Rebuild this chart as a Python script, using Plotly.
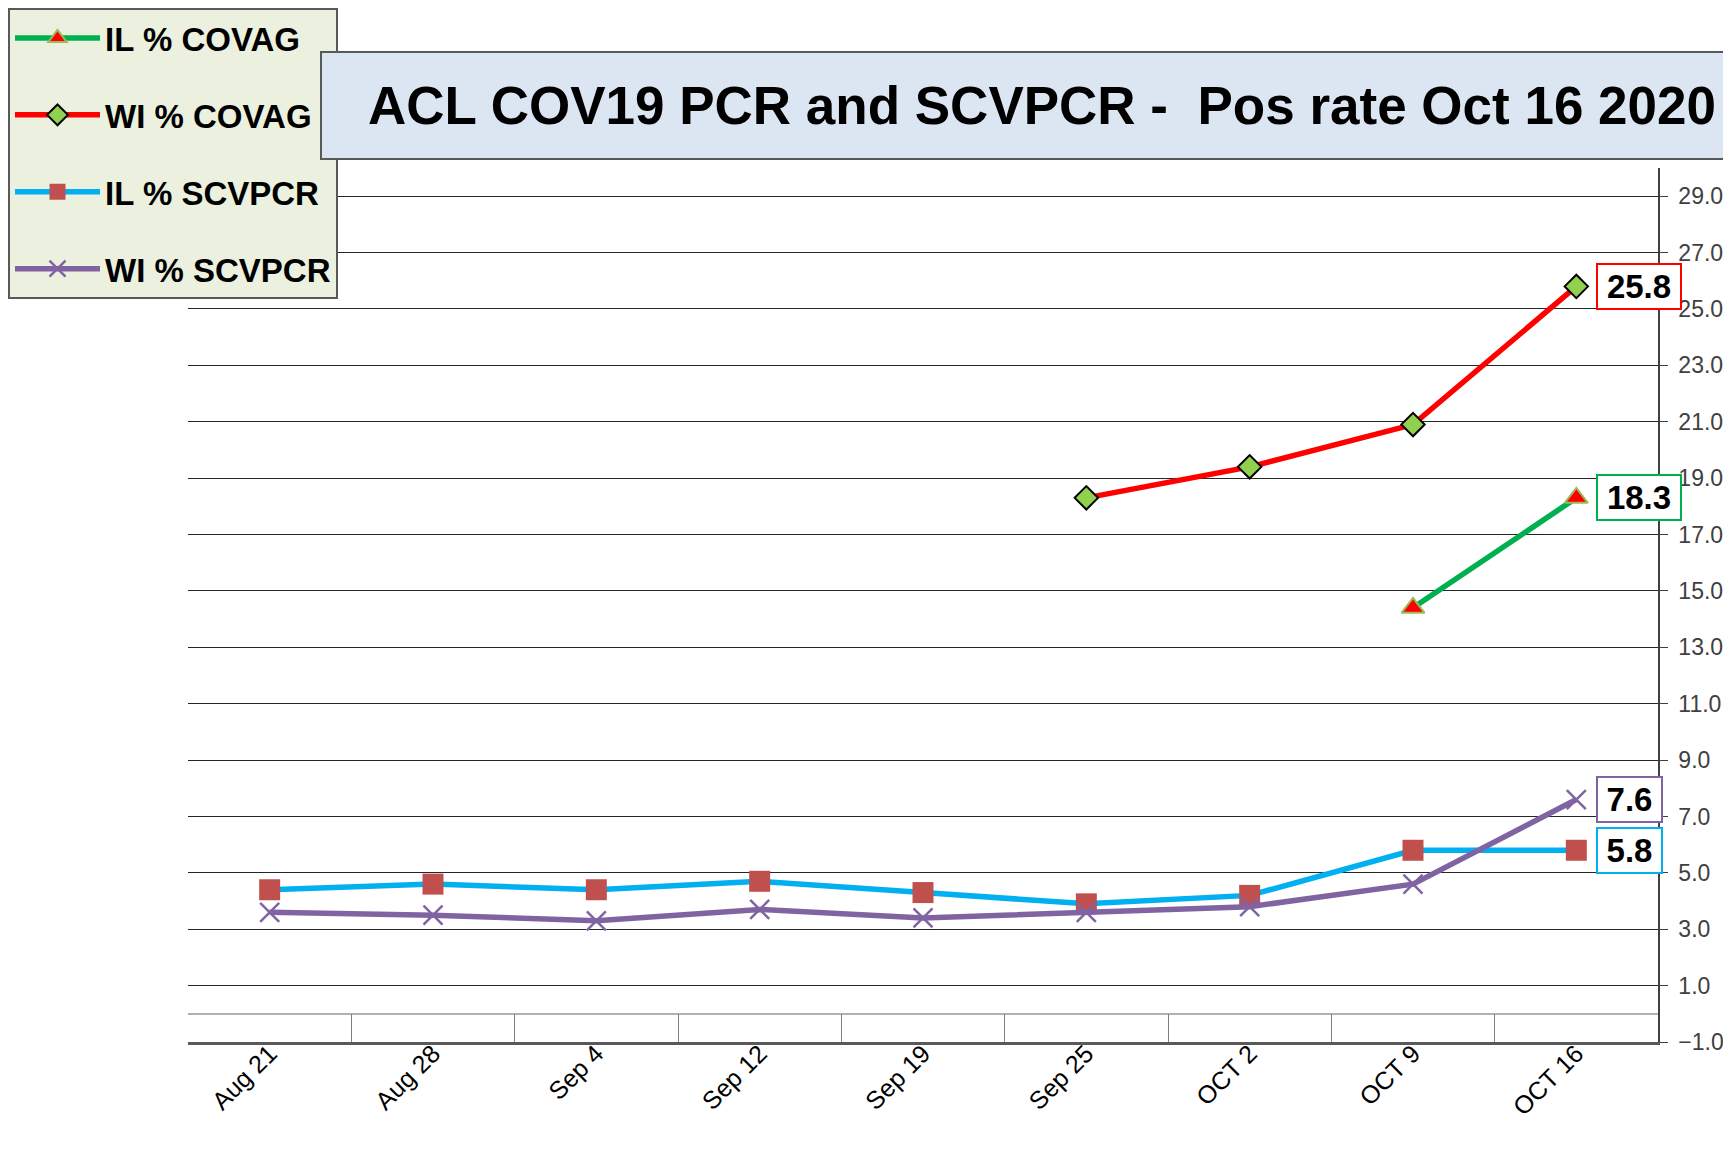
import plotly.graph_objects as go

categories = ["Aug 21", "Aug 28", "Sep 4", "Sep 12", "Sep 19", "Sep 25", "OCT 2", "OCT 9", "OCT 16"]
il_covag = [None, None, None, None, None, None, None, 14.4, 18.3]
wi_covag = [None, None, None, None, None, 18.3, 19.4, 20.9, 25.8]
il_scvpcr = [4.4, 4.6, 4.4, 4.7, 4.3, 3.9, 4.2, 5.8, 5.8]
wi_scvpcr = [3.6, 3.5, 3.3, 3.7, 3.4, 3.6, 3.8, 4.6, 7.6]
title_text = "ACL COV19 PCR and SCVPCR -  Pos rate Oct 16 2020"

# page body has an 8px margin; work in figure coordinates
OFF = 8
W, H = 1723, 1160
L, T = 188 - OFF, 168 - OFF
R = W - (1658 - OFF)
B = H - (1042 - OFF)
pw, ph = W - L - R, H - T - B

def px_x(x):
    return (x - OFF - L) / pw

def px_y(y):
    return (H - B - (y - OFF)) / ph

fig = go.Figure()

series = [
    dict(name="IL % COVAG", y=il_covag, line=dict(color="#00b050", width=5.5),
         marker=dict(symbol="triangle-up", size=20, color="#ff0000", line=dict(color="#9bbb59", width=2)),
         box="#00b050"),
    dict(name="WI % COVAG", y=wi_covag, line=dict(color="#ff0000", width=5.5),
         marker=dict(symbol="diamond", size=18, color="#92d050", line=dict(color="#000000", width=2)),
         box="#ff0000"),
    dict(name="IL % SCVPCR", y=il_scvpcr, line=dict(color="#00b0f0", width=5.5),
         marker=dict(symbol="square", size=21, color="#c0504d", line=dict(width=0)),
         box="#00b0f0"),
    dict(name="WI % SCVPCR", y=wi_scvpcr, line=dict(color="#8064a2", width=5.5),
         marker=dict(symbol="x-thin", size=19, color="#8064a2", line=dict(color="#8064a2", width=2.5)),
         box="#8064a2"),
]

for i, s in enumerate(series):
    fig.add_trace(go.Scatter(
        x=categories, y=s["y"], name=s["name"], mode="lines+markers",
        line=s["line"], marker=s["marker"], legendgroup=f"g{i}",
        connectgaps=False,
    ))

annotations = []
for s in series:
    last = s["y"][-1]
    label = f"{last:.1f}"
    annotations.append(dict(
        x=categories[-1], y=last, xref="x", yref="y", text=label,
        showarrow=False, xanchor="left", yanchor="middle", xshift=20,
        font=dict(family="Liberation Sans", size=33, color="#000000", weight="bold"),
        bgcolor="#ffffff", bordercolor=s["box"], borderwidth=2, borderpad=3,
        width=19 * len(label), height=37,
    ))

annotations.append(dict(
    x=px_x(320), y=px_y(51), xref="paper", yref="paper", xanchor="left", yanchor="top",
    text=title_text, showarrow=False, width=1440, height=105, align="center", valign="middle",
    bgcolor="#dce6f2", bordercolor="#595959", borderwidth=2, borderpad=0,
    font=dict(family="Liberation Sans", size=53, color="#000000", weight="bold"),
))

fig.update_layout(
    width=W, height=H,
    margin=dict(l=L, r=R, t=T, b=B, pad=0, autoexpand=False),
    paper_bgcolor="#ffffff", plot_bgcolor="#ffffff",
    showlegend=True,
    legend=dict(
        xref="container", yref="container",
        x=0, y=1, xanchor="left", yanchor="top",
        bgcolor="#ebf1de", bordercolor="#595959", borderwidth=2,
        font=dict(family="Liberation Sans", size=33, color="#000000", weight="bold"),
        tracegroupgap=31, itemwidth=85, traceorder="grouped",
    ),
    annotations=annotations,
    xaxis=dict(
        type="category", categoryorder="array", categoryarray=categories,
        range=[-0.5, 8.5], showgrid=False, zeroline=False,
        showline=True, linecolor="#595959", linewidth=3,
        ticks="inside", tickson="boundaries", ticklen=28, tickcolor="#808080", tickwidth=1,
        tickangle=-45, tickfont=dict(family="Liberation Sans", size=25, color="#000000"),
        ticklabelstandoff=-16,
        automargin=False,
    ),
    yaxis=dict(
        side="right", range=[-1, 30], tick0=1, dtick=2, tickformat=".1f",
        showgrid=True, gridcolor="#262626", gridwidth=1.3,
        zeroline=True, zerolinecolor="#b0b0b0", zerolinewidth=2,
        showline=True, linecolor="#404040", linewidth=1.5,
        ticks="outside", ticklen=8, tickcolor="#404040",
        tickfont=dict(family="Liberation Sans", size=23, color="#404040"),
        ticklabelstandoff=6,
        automargin=False,
    ),
)

fig.write_html("out.html")
